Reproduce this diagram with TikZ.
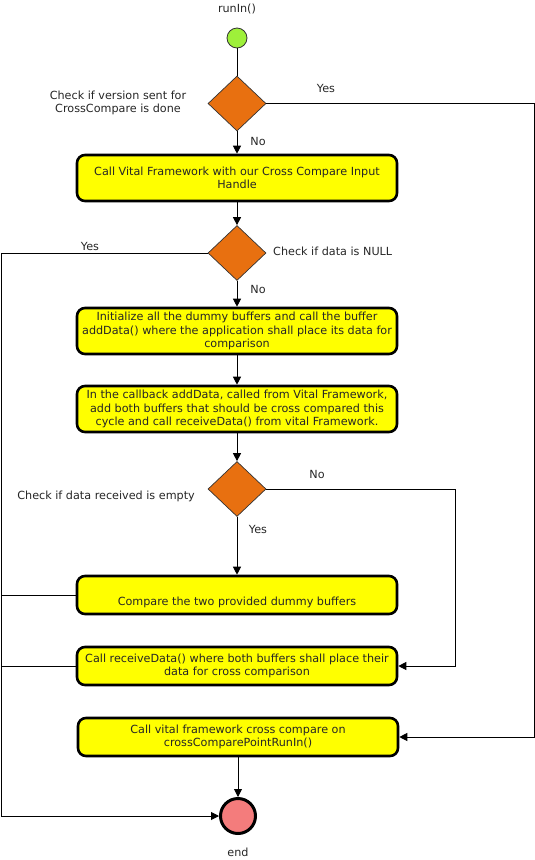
\documentclass[tikz,border=0pt]{standalone}
\usepackage{fontspec}
\setmainfont{DejaVu Sans}
\usetikzlibrary{shapes.geometric,arrows.meta}
\definecolor{startgreen}{HTML}{9EF03A}
\definecolor{decorange}{HTML}{E87010}
\definecolor{boxyellow}{HTML}{FFFF00}
\definecolor{endred}{HTML}{F47C7C}
\begin{document}
\begin{tikzpicture}[x=1pt,y=-1pt,
  every node/.style={font=\fontsize{11.2}{13.5}\selectfont, text=black!85},
  stepbox/.style={draw=black, line width=2.6pt, fill=boxyellow, rounded corners=8pt,
    minimum width=320pt, align=center, inner sep=2pt},
  decision/.style={diamond, draw=black!80, line width=0.7pt, fill=decorange,
    minimum width=58pt, minimum height=55pt, inner sep=0pt},
  lbl/.style={inner sep=0pt, align=center},
  flow/.style={line width=0.9pt},
  arr/.style={flow, -{Triangle[length=8pt,width=8pt]}}
]
\useasboundingbox (0,0) rectangle (535,860);

% start / end terminals
\node[circle, draw=black!80, line width=0.8pt, fill=startgreen, minimum size=20pt, inner sep=0pt] (start) at (237,38) {};
\node[circle, draw=black, line width=3pt, fill=endred, minimum size=35pt, inner sep=0pt] (stop) at (238,816) {};

% decisions
\node[decision] (d1) at (237,103.5) {};
\node[decision] (d2) at (237,253) {};
\node[decision] (d3) at (237,489) {};

% process steps
\node[stepbox, minimum height=46pt] (b1) at (237,178) {Call Vital Framework with our Cross Compare Input\\Handle};
\node[stepbox, minimum height=46pt] (b2) at (237,331) {Initialize all the dummy buffers and call the buffer\\addData() where the application shall place its data for\\comparison};
\node[stepbox, minimum height=46pt] (b3) at (237,409) {In the callback addData, called from Vital Framework,\\add both buffers that should be cross compared this\\cycle and call receiveData() from vital Framework.};
\node[stepbox, minimum height=38pt] (b4) at (237,595) {\strut\\Compare the two provided dummy buffers};
\node[stepbox, minimum height=38pt] (b5) at (237,666) {Call receiveData() where both buffers shall place their\\data for cross comparison};
\node[stepbox, minimum height=38pt] (b6) at (238,737) {Call vital framework cross compare on\\crossComparePointRunIn()};

% rails
\coordinate (lr) at (1,0);
\coordinate (rr) at (534,0);
\coordinate (nr) at (455,0);

% main flow
\draw[flow] (start) -- (d1.north);
\draw[arr] (d1.south) -- (b1.north);
\draw[arr] (b1.south) -- (d2.north);
\draw[arr] (d2.south) -- (b2.north);
\draw[arr] (b2.south) -- (b3.north);
\draw[arr] (b3.south) -- (d3.north);
\draw[arr] (d3.south) -- (b4.north);
\draw[arr] (b6.south) -- (stop.north);

% branches
\draw[arr] (d1.east) -- (d1.east -| rr) -- (b6.east -| rr) -- (b6.east);
\draw[arr] (d2.west) -- (d2.west -| lr) -- (stop.west -| lr) -- (stop.west);
\draw[flow] (b4.west) -- (b4.west -| lr);
\draw[flow] (b5.west) -- (b5.west -| lr);
\draw[arr] (d3.east) -- (d3.east -| nr) -- (b5.east -| nr) -- (b5.east);

% labels
\node[lbl] (tstart) at (237,9) {runIn()};
\node[lbl] (tend) at (238,852) {end};
\node[lbl] (q1) at (118,103) {Check if version sent for\\CrossCompare is done};
\node[lbl, anchor=west] (q2) at (273,251) {Check if data is NULL};
\node[lbl, anchor=east] (q3) at (195,496) {Check if data received is empty};
\node[lbl] (y1) at (326,88) {Yes};
\node[lbl] (n1) at (258,141) {No};
\node[lbl] (y2) at (90,246) {Yes};
\node[lbl] (n2) at (258,289) {No};
\node[lbl] (n3) at (317,474) {No};
\node[lbl] (y3) at (258,529) {Yes};
\end{tikzpicture}
\end{document}
